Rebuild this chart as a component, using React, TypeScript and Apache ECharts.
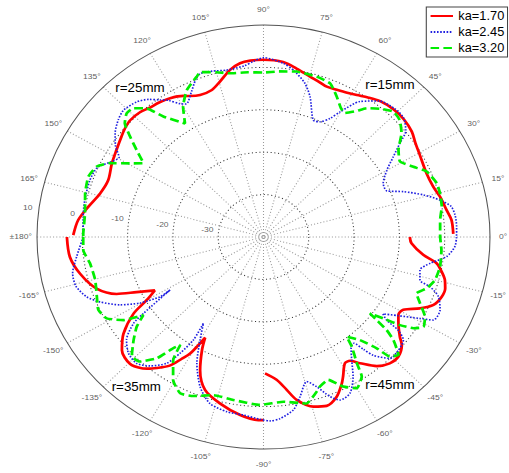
import { useEffect, useRef } from 'react';
import * as echarts from 'echarts';

// ---------- data (angle in degrees, level on the radial scale) ----------
const seriesNames = ['ka=1.70', 'ka=2.45', 'ka=3.20'];

// null marks a break in the trace
const ka170: ([number, number] | null)[] = [
  [1, 1.9], [5.5, 1.7], [9, 0.9], [13.7, 0.1], [17.6, -0.7], [22.8, -1.0], [28.8, -0.5], [33.5, 0.2],
  [37.2, 1.1], [41.8, 1.6], [46.3, 1.6], [51.2, 1.1], [55, 0.2], [58.4, -0.7], [61.5, -1.3], [65, -1.7],
  [68.5, -1.9], [71.5, -1.4], [74.8, -0.8], [79.6, 0.4], [84, 1.5], [90, 1.8], [94, 1.7], [97.2, 1.3],
  [100.6, 0.1], [104.7, -2.1], [108.2, -3.5], [112.7, -3.7], [116, -3.0], [118, -2.3], [122.2, -1.3],
  [126, -0.8], [129.5, -0.5], [132.7, 0.1], [136.9, 0.3], [140, -0.1], [142.9, -0.7], [147.7, -1.6],
  [152.6, -2.3], [158.7, -3.2], [164.1, -2.5], [169.5, -0.7], [174.4, 1.1], [179.4, 2.0],
  null,
  [-180, 3.4], [-173.7, 3.0], [-167.9, 1.4], [-161.7, -1.2], [-157.5, -4.9], [-155.1, -9.1], [-152.3, -12.9],
  [-150, -10.2], [-147.8, -6.1], [-143.6, -1.6], [-139.5, 1.1], [-134.6, 2.0], [-131, 1.0], [-128.9, -0.1],
  [-126.5, -1.7], [-124.2, -3.4], [-122.2, -6.0], [-120.5, -8.1], [-118.5, -13], [-117, -10.1], [-114, -5.6],
  [-109.7, -1.7], [-103.8, 0.4], [-97, 2.3], [-91.5, 3.2], [-90, 3.2],
  null,
  [-89.4, -7.85], [-85.1, -6.2], [-81.9, -3.6], [-79.2, -0.9], [-74.6, 1.5], [-70.7, 2.2], [-66.8, 1.0],
  [-63.5, -1.3], [-61.9, -2.7], [-58.9, -5.2], [-56.8, -5.1], [-54.4, -3.4], [-50.6, -0.6], [-46.9, 0.8],
  [-43.4, 1.0], [-39.9, -0.2], [-38, -1.8], [-34.4, -3.9], [-31.7, -5.0], [-29.1, -4.7], [-26, -1.6],
  [-23.1, 0.8], [-19.7, 1.8], [-16.8, 1.9], [-14.2, 1.3], [-11.8, 0.2], [-9.2, -1.3], [-6.8, -4.5],
  [-2.6, -7.3], [0, -7.7],
];

const ka245: ([number, number] | null)[] = [
  [-180, -0.2], [-173.6, 1.5], [-168.5, 3.0], [-164.3, 3.0], [-160.1, 1.5], [-157, -0.8], [-153.2, -4.5],
  [-150.3, -8.6], [-148.3, -13.2], [-148.8, -15.9], [-145.8, -8.0], [-144.6, -4.8], [-141.2, -1.2],
  [-137.4, 0.5], [-133.2, 0.9], [-129.5, -0.6], [-125.7, -3.3], [-123.9, -7.0], [-122.5, -11.2],
  [-123.1, -15.7], [-120, -12], [-116.3, -6.8], [-111.6, -2.0], [-106.8, 1.0], [-101.1, 2.0], [-96.1, 2.2],
  [-91, 3.0], [-88, 3.4], [-85.2, 3.0], [-80.8, 1.3], [-77.9, -1.5], [-74.4, -4.6], [-71.6, -2.8],
  [-68.7, 0.4], [-66.3, 2.0], [-62.6, 1.5], [-59, -1.6], [-56.1, -5.1], [-53.5, -7.5], [-51.5, -8.0],
  [-50.2, -5.5], [-49, -3.0], [-45.7, 0.0], [-41.8, 0.0], [-38.2, -0.7], [-36.5, -3.0], [-35.8, -6.5],
  [-34.5, -8.0], [-32, -5.0], [-29.1, -0.5], [-27.6, 2.3], [-23.8, 2.6], [-20, 1.1], [-17.7, -1.4],
  [-16.4, -4.0], [-12.7, -4.6], [-9.6, -2.7], [-6.5, 0.7], [-3.1, 2.3], [0, 2.6], [3.3, 2.7], [7, 2.6],
  [10, 2.0], [12.6, -0.1], [15.7, -3.3], [19.1, -7.3], [21.8, -10.7], [25.6, -10.7], [30.1, -8.5],
  [33.4, -5.7], [36.3, -2.65], [38.6, 0.2], [42.3, 1.8], [46.2, 1.9], [51.5, 1.0], [56.3, -1.6],
  [60.2, -6.0], [62.3, -8.4], [65.3, -10.1], [68.3, -10.3], [72.7, -5.4], [76, -2.5], [80.5, -0.1],
  [83.9, 1.2], [90, 2.3], [93, 1.5], [96, 0.6], [101.8, 0.2], [106, 0.7], [109.9, 1.0], [112, 0.0],
  [115, -2.3], [118.5, -4.3], [120.5, -3.5], [123, -1.6], [125.3, -0.4], [128, 1.2], [131.3, 2.4],
  [136, 3.0], [139.3, 2.3], [143.2, 0.9], [146.5, -0.8], [149.5, -3.0], [152.5, -1.8], [156, 0.2],
  [160.7, 0.6], [167.5, 0.4], [173.1, 0.1], [180, -0.2],
];

const ka320: ([number, number] | null)[] = [
  [-180, -0.2], [-175.5, -0.1], [-170.8, -1.2], [-164.8, -1.5], [-159, -0.6], [-154.8, 0.3], [-151, -0.4],
  [-147.6, -3.4], [-145.2, -7.7], [-142.9, -4.9], [-139.7, -2.4], [-135.9, 0.5], [-132.9, 0.1],
  [-129.5, -2.9], [-127.2, -7.1], [-125.8, -8.6], [-124.5, -4.8], [-120.6, -0.8], [-116.5, 1.2],
  [-112.5, 0.6], [-106.5, -1.1], [-99.9, -1.0], [-91.1, -0.4], [-83.5, -0.9], [-76.4, 0.4], [-72.5, -1.5],
  [-70.5, -2.6], [-67, -3.4], [-63.5, -0.6], [-60, 1.2], [-56.6, -0.6], [-55.3, -3.8], [-53, -7.6],
  [-52, -10.15], [-48.8, -7.7], [-46.4, -3.75], [-45.3, -0.3], [-43, 0.75], [-40.3, -2.4], [-38.9, -5.1],
  [-38.1, -8.2], [-37.5, -10.4], [-36, -7.3], [-34.6, -3.4], [-33, -0.5], [-31, 1.2], [-27.8, 0.3],
  [-24.3, -2.1], [-21.5, -3.7], [-18.6, -2.0], [-15, -0.8], [-10.2, -0.4], [-4.5, -0.6], [0, -1.0],
  [5.9, -0.8], [10.3, 0.0], [14.8, 0.3], [18.3, 0.3], [23.2, -0.8], [26.6, -3.0], [30.6, -5.0],
  [34.6, -3.8], [38.8, -0.9], [42.5, 0.8], [45.9, 1.2], [49.4, -0.2], [53.1, -2.0], [55.5, -4.0],
  [58.5, -5.7], [60.5, -5.2], [63.9, -3.2], [67.9, -0.9], [72.8, -0.4], [79.4, -0.3], [85, -0.8],
  [90, -1.2], [95, -1.0], [100.8, -0.7], [104.9, 0.2], [109.7, 1.3], [111.3, 0.6], [116, -1.4],
  [120, -4.5], [122.9, -8.1], [127.9, -4.0], [130.4, -0.2], [133.4, 1.8], [136, 2.0], [138.8, 0.7],
  [141.2, -2.2], [143.8, -5.3], [146.7, -8.3], [149.5, -5.8], [152.8, -1.9], [155.7, 0.4], [159.8, 1.2],
  [165.3, 0.7], [171.9, -0.2], [178.7, -0.2], [180, -0.2],
];

const angleTickValues = [
  -180, -165, -150, -135, -120, -105, -90, -75, -60, -45, -30, -15,
  0, 15, 30, 45, 60, 75, 90, 105, 120, 135, 150, 165,
];
const angleTickLabels = [
  '±180°', '-165°', '-150°', '-135°', '-120°', '-105°', '-90°', '-75°', '-60°', '-45°', '-30°', '-15°',
  '0°', '15°', '30°', '45°', '60°', '75°', '90°', '105°', '120°', '135°', '150°', '165°',
];
const radialTickValues = [-30, -20, -10, 0, 10];
const radialTickLabels = ['-30', '-20', '-10', '0', '10'];
const annotationTexts = ['r=25mm', 'r=15mm', 'r=35mm', 'r=45mm'];

// ---------- layout ----------
const W = 509;
const H = 473;
const K = 226.5 / 212; // the reference plot is stretched horizontally
const FONT = '"Liberation Sans", Arial, Helvetica, sans-serif';

export default function App() {
  const ref = useRef<HTMLDivElement>(null);

  useEffect(() => {
    if (!ref.current) return;
    const chart = echarts.init(ref.current, null, { renderer: 'svg' });
    const toPolar = (pts: ([number, number] | null)[]) =>
      pts.map((p) => (p ? [p[1], p[0]] : ['-', '-']));
    const annPos: [number, number][] = [
      [140, 87.5],
      [390, 85],
      [136.3, 386.7],
      [390, 385],
    ];

    chart.setOption({
      animation: false,
      backgroundColor: '#ffffff',
      textStyle: { fontFamily: FONT },
      polar: { center: [263.5 / K, 237], radius: 212 },
      angleAxis: {
        type: 'value',
        min: -180,
        max: 180,
        interval: 15,
        startAngle: 180,
        clockwise: false,
        axisLine: { show: true, lineStyle: { color: '#555555', width: 1 } },
        axisTick: { show: false },
        axisLabel: { show: false },
        splitLine: { show: true, lineStyle: { color: '#9a9a9a', width: 1, type: [1, 2] } },
      },
      radiusAxis: {
        type: 'value',
        min: -40,
        max: 10,
        interval: 10,
        axisLine: { show: false },
        axisTick: { show: false },
        axisLabel: { show: false },
        splitLine: {
          show: true,
          lineStyle: {
            color: ['rgba(0,0,0,0)', '#333333', '#333333', '#333333', '#333333', 'rgba(0,0,0,0)'],
            width: 1,
            type: [1, 2.5],
          },
        },
      },
      legend: {
        data: seriesNames,
        orient: 'vertical',
        left: 399,
        top: 7,
        itemWidth: 21,
        itemHeight: 10,
        itemGap: 4,
        padding: [3, 3, 3, 3],
        borderColor: '#444444',
        borderWidth: 1,
        borderRadius: 0,
        backgroundColor: '#ffffff',
        itemStyle: { opacity: 0 },
        textStyle: { fontSize: 12, color: '#000000', fontFamily: FONT },
      },
      series: [
        {
          name: seriesNames[0],
          type: 'line',
          coordinateSystem: 'polar',
          data: toPolar(ka170),
          symbol: 'none',
          smooth: 0.3,
          lineStyle: { color: '#ff0000', width: 2.6 },
          itemStyle: { color: '#ff0000' },
          silent: true,
        },
        {
          name: seriesNames[1],
          type: 'line',
          coordinateSystem: 'polar',
          data: toPolar(ka245),
          symbol: 'none',
          smooth: 0.25,
          lineStyle: { color: '#1f1fe0', width: 1.6, type: [1.5, 1.5] },
          itemStyle: { color: '#1f1fe0' },
          silent: true,
        },
        {
          name: seriesNames[2],
          type: 'line',
          coordinateSystem: 'polar',
          data: toPolar(ka320),
          symbol: 'none',
          smooth: 0.15,
          lineStyle: { color: '#00ee00', width: 2.6, type: [8, 4] },
          itemStyle: { color: '#00ee00' },
          silent: true,
        },
        {
          type: 'scatter',
          coordinateSystem: 'polar',
          data: angleTickValues.map((a) =>
            a === 0
              ? { value: [13.6, a], label: { offset: [-3, 0] } }
              : { value: [13.6, a] }
          ),
          symbolSize: 1,
          itemStyle: { color: 'rgba(0,0,0,0)' },
          clip: false,
          silent: true,
          label: {
            show: true,
            position: 'inside',
            formatter: (p: any) => angleTickLabels[p.dataIndex],
            fontSize: 8,
            color: '#333333',
            fontFamily: FONT,
          },
        },
        {
          type: 'scatter',
          coordinateSystem: 'polar',
          data: radialTickValues.map((v) => [v + 2.5, 172.5]),
          symbolSize: 1,
          itemStyle: { color: 'rgba(0,0,0,0)' },
          clip: false,
          silent: true,
          label: {
            show: true,
            position: 'inside',
            formatter: (p: any) => radialTickLabels[p.dataIndex],
            fontSize: 8,
            color: '#333333',
            fontFamily: FONT,
          },
        },
      ],
      graphic: annotationTexts.map((t, i) => ({
        type: 'text',
        x: annPos[i][0] / K,
        y: annPos[i][1],
        silent: true,
        style: {
          text: t,
          fontSize: 12.5,
          fontFamily: FONT,
          fill: '#000000',
          align: 'center',
          verticalAlign: 'middle',
        },
      })),
    });

    return () => chart.dispose();
  }, []);

  return (
    <div
      ref={ref}
      style={{
        position: 'fixed',
        left: 0,
        top: 0,
        width: W / K,
        height: H,
        transform: `scaleX(${K})`,
        transformOrigin: '0 0',
        background: '#ffffff',
      }}
    />
  );
}
